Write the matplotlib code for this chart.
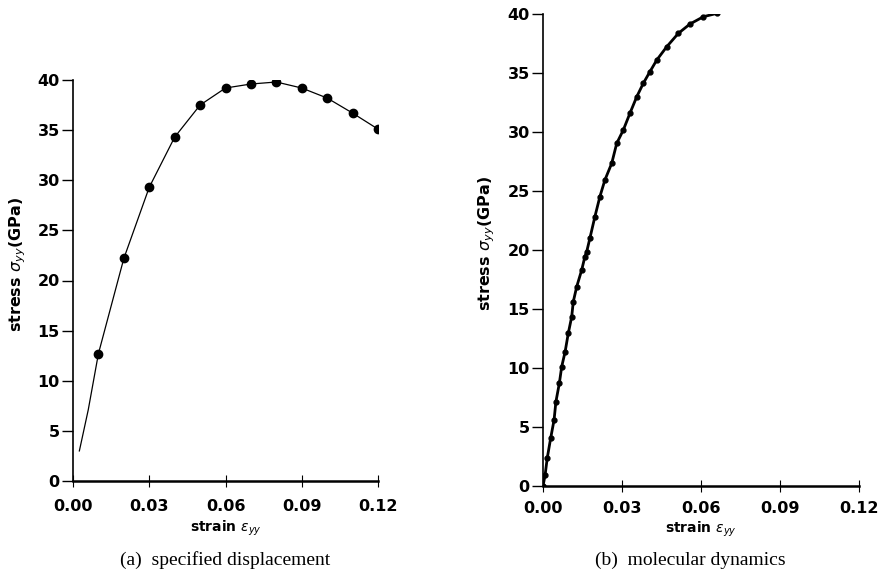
import matplotlib
matplotlib.use("Agg")
import matplotlib.pyplot as plt

plt.rcParams['font.family'] = ['DejaVu Sans']
plt.rcParams['mathtext.fontset'] = 'dejavusans'

# (a) specified displacement
strain_a = [0.0025, 0.006, 0.01, 0.02, 0.03, 0.04, 0.05, 0.06, 0.07, 0.08, 0.09, 0.10, 0.11, 0.12]
stress_a = [3.0, 7.1, 12.7, 22.2, 29.3, 34.3, 37.5, 39.2, 39.6, 39.8, 39.2, 38.2, 36.7, 35.1]
mark_x = [0.01, 0.02, 0.03, 0.04, 0.05, 0.06, 0.07, 0.08, 0.09, 0.10, 0.11, 0.12]
mark_y = [12.7, 22.2, 29.3, 34.3, 37.5, 39.2, 39.6, 39.8, 39.2, 38.2, 36.7, 35.1]

# (b) molecular dynamics
strain_b = [0.0, 0.0008, 0.0016, 0.0029, 0.0042, 0.0049, 0.0062, 0.0071, 0.0084, 0.0096,
            0.0109, 0.0115, 0.0128, 0.0147, 0.0159, 0.0166, 0.0178, 0.0197, 0.0216, 0.0235,
            0.0261, 0.0280, 0.0305, 0.0330, 0.0356, 0.0381, 0.0406, 0.0432, 0.0470, 0.0514,
            0.0558, 0.0609, 0.0660]
stress_b = [0.0, 0.93, 2.35, 4.04, 5.59, 7.14, 8.70, 10.11, 11.38, 12.94,
            14.35, 15.62, 16.89, 18.31, 19.43, 19.86, 20.99, 22.82, 24.52, 25.93,
            27.35, 29.04, 30.17, 31.58, 32.99, 34.13, 35.11, 36.10, 37.23, 38.36,
            39.15, 39.77, 40.05]

xticks = [0.00, 0.03, 0.06, 0.09, 0.12]
xticklabels = ['0.00', '0.03', '0.06', '0.09', '0.12']
yticks = [0, 5, 10, 15, 20, 25, 30, 35, 40]

fig = plt.figure(figsize=(8.8, 5.8), dpi=100)
W, H = 880, 580

def make_ax(x0, x1, y0, y40, xpad):
    ax = fig.add_axes([x0 / W, 1 - y0 / H, (x1 - x0) / W, (y0 - y40) / H])
    ax.set_xlim(0, 0.12)
    ax.set_ylim(0, 40)
    ax.spines['top'].set_visible(False)
    ax.spines['right'].set_visible(False)
    ax.spines['left'].set_linewidth(1.2)
    ax.spines['bottom'].set_linewidth(1.8)
    ax.set_xticks(xticks)
    ax.set_xticklabels(xticklabels)
    ax.set_yticks(yticks)
    ax.tick_params(axis='x', direction='inout', length=8, width=0.8, pad=xpad, labelsize=11.5)
    ax.tick_params(axis='y', direction='out', length=8, width=1.0, pad=1.5, labelsize=11.5)
    for lab in ax.get_xticklabels() + ax.get_yticklabels():
        lab.set_fontweight('bold')
    ax.set_ylabel(r'stress $\sigma_{yy}$(GPa)', fontsize=11.5, fontweight='bold')
    ax.set_xlabel(r'strain $\varepsilon_{yy}$', fontsize=10, fontweight='bold', labelpad=3)
    return ax

axa = make_ax(73, 378, 481, 80, 9)
axa.plot(strain_a, stress_a, color='black', lw=0.9)
axa.plot(mark_x, mark_y, 'o', color='black', ms=6)
axa.yaxis.set_label_coords(-0.148, 0.539)

axb = make_ax(543, 859, 486, 14, 6.5)
axb.plot(strain_b, stress_b, color='black', lw=2.0, marker='o', ms=3.5)
axb.yaxis.set_label_coords(-0.146, 0.515)

fig.text(225 / W, 1 - 560 / H, '(a)  specified displacement', ha='center', va='center',
         fontsize=14, family=['Liberation Serif', 'DejaVu Serif'])
fig.text(690 / W, 1 - 560 / H, '(b)  molecular dynamics', ha='center', va='center',
         fontsize=14, family=['Liberation Serif', 'DejaVu Serif'])

fig.savefig('out.png', dpi=100)
